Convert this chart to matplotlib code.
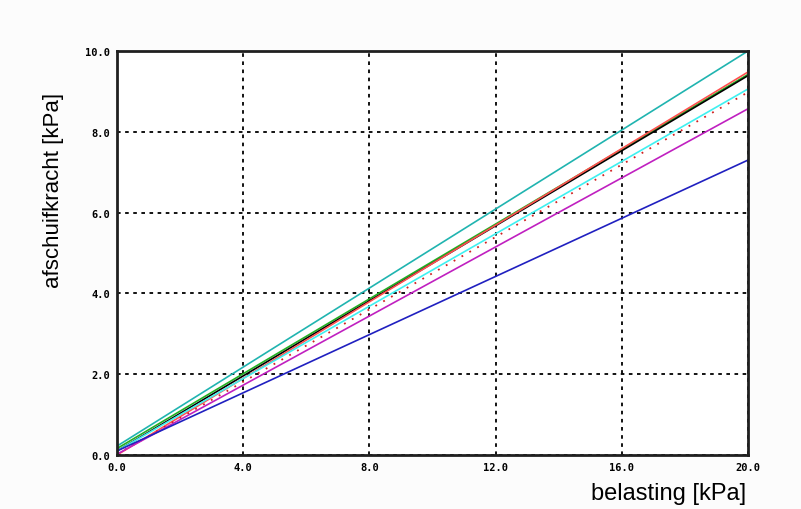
import matplotlib
matplotlib.use("Agg")
import matplotlib.pyplot as plt
import numpy as np

# shear lines: afschuifkracht = c + slope * belasting
x_end = [0.0, 20.0]
namen = ["teal", "groen", "zwart", "rood", "cyaan", "rood_punt", "magenta", "blauw"]
c_waarden = [0.22, 0.16, 0.10, 0.00, 0.10, 0.02, 0.02, 0.10]
y_eind = [10.00, 9.42, 9.39, 9.48, 9.06, 8.98, 8.57, 7.30]
kleuren = ["#20b4b0", "#20b020", "#000000", "#ff5050", "#40f0f0", "#d02020", "#c020c0", "#2020c0"]
stijlen = ["-", "-", "-", "-", "-", (0, (1, 4)), "-", "-"]

x_ticks = [0, 4, 8, 12, 16, 20]
x_labels = ["0.0", "4.0", "8.0", "12.0", "16.0", "20.0"]
y_ticks = [0, 2, 4, 6, 8, 10]
y_labels = ["0.0", "2.0", "4.0", "6.0", "8.0", "10.0"]

fig = plt.figure(figsize=(8.01, 5.10), dpi=100)
fig.patch.set_facecolor("#fcfcfc")
ax = fig.add_axes([117/801, 1-456/510, (748-117)/801, (456-52)/510])
ax.set_facecolor("white")

for i in range(len(namen)):
    ax.plot(x_end, [c_waarden[i], y_eind[i]], color=kleuren[i],
            linestyle=stijlen[i], linewidth=1.3 if stijlen[i] != "-" else 1.2)

ax.set_xlim(0, 20)
ax.set_ylim(0, 10)
ax.set_xticks(x_ticks)
ax.set_xticklabels(x_labels)
ax.set_yticks(y_ticks)
ax.set_yticklabels(y_labels)
ax.tick_params(length=0, pad=5)
for lbl in ax.get_xticklabels() + ax.get_yticklabels():
    lbl.set_fontfamily("DejaVu Sans Mono")
    lbl.set_fontweight("bold")
    lbl.set_fontsize(7.5)

ax.grid(True, color="black", linestyle=(0, (2, 2.5)), linewidth=1.3)
for s in ax.spines.values():
    s.set_linewidth(2)
    s.set_color("#202020")

fig.text(669/801, 1-494/510, "belasting [kPa]", ha="center", va="center",
         fontsize=17, family="Liberation Sans")
fig.text(54/801, 1-190/510, "afschuifkracht [kPa]", ha="center", va="center",
         rotation=90, fontsize=16, family="Liberation Sans")

fig.savefig("out.png", dpi=100, facecolor=fig.get_facecolor())
